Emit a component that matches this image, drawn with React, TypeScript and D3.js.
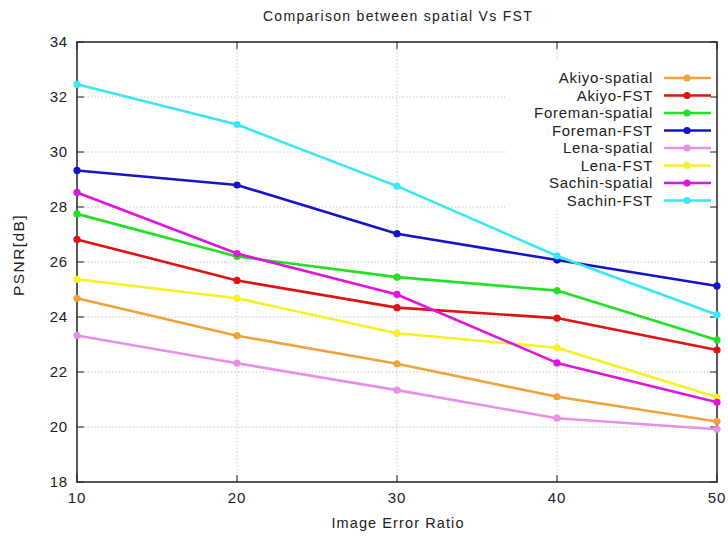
import React from 'react';
import * as d3 from 'd3';

const ratios = [10, 20, 30, 40, 50];
const seriesNames = ['Akiyo-spatial', 'Akiyo-FST', 'Foreman-spatial', 'Foreman-FST', 'Lena-spatial', 'Lena-FST', 'Sachin-spatial', 'Sachin-FST'];
const seriesColors = ['#f2a23a', '#e31212', '#22e022', '#1414c8', '#e890e8', '#f8f020', '#e014e0', '#36e8f4'];
const akiyoSpatial = [24.68, 23.32, 22.3, 21.1, 20.2];
const akiyoFST = [26.82, 25.33, 24.34, 23.96, 22.8];
const foremanSpatial = [27.75, 26.2, 25.45, 24.96, 23.16];
const foremanFST = [29.33, 28.8, 27.03, 26.07, 25.13];
const lenaSpatial = [23.33, 22.32, 21.34, 20.32, 19.92];
const lenaFST = [25.37, 24.68, 23.41, 22.88, 21.08];
const sachinSpatial = [28.53, 26.31, 24.82, 22.33, 20.9];
const sachinFST = [32.46, 31.0, 28.76, 26.22, 24.08];
const allSeries = [akiyoSpatial, akiyoFST, foremanSpatial, foremanFST, lenaSpatial, lenaFST, sachinSpatial, sachinFST];
const yTicks = [18, 20, 22, 24, 26, 28, 30, 32, 34];
const xTicks = [10, 20, 30, 40, 50];

export default function App() {
  const width = 728, height = 537;
  const margin = {top: 42, right: 10, bottom: 55, left: 77};
  const right = width - margin.right - 1;
  const bottom = height - margin.bottom;

  const x = d3.scaleLinear().domain([10, 50]).range([margin.left, right]);
  const y = d3.scaleLinear().domain([18, 34]).range([bottom, margin.top]);

  const line = d3.line<number>()
    .x((d, i) => x(ratios[i]))
    .y(d => y(d));

  const font = 'Liberation Sans, Arial, sans-serif';
  const legendRight = 653;
  const legendTop = 78;
  const legendStep = 17.5;

  return (
    <div style={{position: 'absolute', left: 0, top: 0}}>
      <svg width={width} height={height} style={{display: 'block', background: '#fff'}} fontFamily={font}>
        {/* grid */}
        <g stroke="#c8c8c8" strokeWidth={1} strokeDasharray="1.5,2">
          {yTicks.slice(1, -1).map(t => (
            <line key={'gy' + t} x1={margin.left} x2={right} y1={y(t)} y2={y(t)} />
          ))}
          {xTicks.slice(1, -1).map(t => (
            <line key={'gx' + t} x1={x(t)} x2={x(t)} y1={margin.top} y2={bottom} />
          ))}
        </g>
        {/* legend background */}
        <rect x={505} y={60} width={right - 505 - 2} height={150} fill="#fff" />
        {/* frame + ticks */}
        <rect x={margin.left} y={margin.top} width={right - margin.left} height={bottom - margin.top} fill="none" stroke="#222" strokeWidth={1.5} />
        <g stroke="#222" strokeWidth={1}>
          {yTicks.map(t => (
            <g key={'ty' + t}>
              <line x1={margin.left} x2={margin.left + 7} y1={y(t)} y2={y(t)} />
              <line x1={right} x2={right - 7} y1={y(t)} y2={y(t)} />
            </g>
          ))}
          {xTicks.map(t => (
            <g key={'tx' + t}>
              <line x1={x(t)} x2={x(t)} y1={bottom} y2={bottom - 7} />
              <line x1={x(t)} x2={x(t)} y1={margin.top} y2={margin.top + 7} />
            </g>
          ))}
        </g>
        <g fontSize={15} fill="#222" letterSpacing={0.8}>
          {yTicks.map(t => (
            <text key={'ly' + t} x={margin.left - 9} y={y(t)} dy="0.35em" textAnchor="end">{t}</text>
          ))}
          {xTicks.map(t => (
            <text key={'lx' + t} x={x(t)} y={bottom + 21} textAnchor="middle">{t}</text>
          ))}
        </g>
        {/* series */}
        {allSeries.map((vals, i) => (
          <g key={seriesNames[i]}>
            <path d={line(vals) || ''} fill="none" stroke={seriesColors[i]} strokeWidth={2.6} strokeLinejoin="round" />
            {vals.map((v, j) => (
              <circle key={j} cx={x(ratios[j])} cy={y(v)} r={3.6} fill={seriesColors[i]} />
            ))}
          </g>
        ))}
        {/* legend */}
        <g fontSize={15} fill="#222" letterSpacing={0.7}>
          {seriesNames.map((n, i) => {
            const ly = legendTop + i * legendStep;
            return (
              <g key={'leg' + n}>
                <text x={legendRight} y={ly} dy="0.36em" textAnchor="end">{n}</text>
                <line x1={664} x2={711} y1={ly} y2={ly} stroke={seriesColors[i]} strokeWidth={2.6} />
                <circle cx={687} cy={ly} r={3.6} fill={seriesColors[i]} />
              </g>
            );
          })}
        </g>
        {/* titles */}
        <text x={398} y={21} textAnchor="middle" fontSize={14} letterSpacing={1.3} fill="#222">Comparison between spatial Vs FST</text>
        <text x={398} y={528} textAnchor="middle" fontSize={14.5} letterSpacing={1.1} fill="#222">Image Error Ratio</text>
        <text transform="translate(24, 255) rotate(-90)" textAnchor="middle" fontSize={15.5} letterSpacing={1.4} fill="#222">PSNR[dB]</text>
      </svg>
    </div>
  );
}
